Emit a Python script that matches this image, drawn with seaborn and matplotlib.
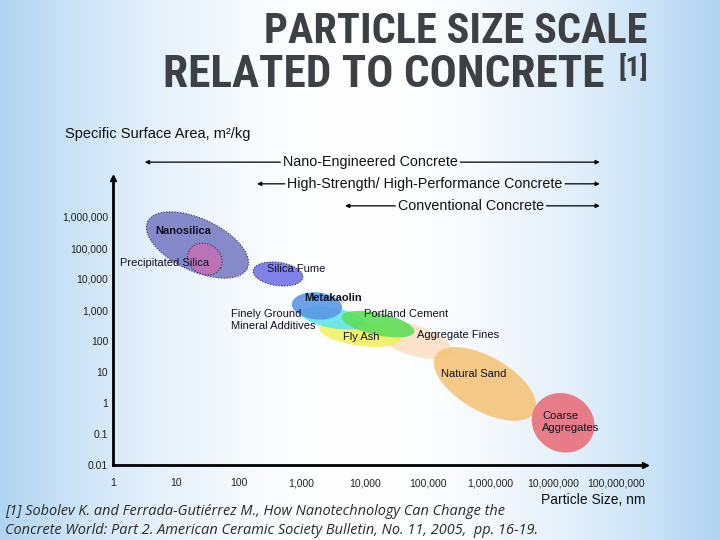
import numpy as np
import matplotlib
matplotlib.use("Agg")
import matplotlib.pyplot as plt
from matplotlib import font_manager
import seaborn as sns

sns.set_theme(style="white")
plt.rcParams['font.family'] = ['Liberation Sans', 'DejaVu Sans']
plt.rcParams['axes.unicode_minus'] = False

# --- data (particle size in nm, specific surface area in m2/kg) ---
materials = ['Aggregate Fines', 'Natural Sand', 'Coarse Aggregates', 'Fly Ash',
             'Finely Ground Mineral Additives', 'Portland Cement', 'Metakaolin',
             'Nanosilica', 'Precipitated Silica', 'Silica Fume']
size_nm = [58700, 820000, 14300000, 8450, 3150, 16300, 1750, 22, 29, 420]
ssa = [108, 4.1, 0.23, 170, 550, 350, 1350, 125000, 44000, 14500]
# extent of each cloud (in particle-size decades) and its tilt
spread_major = [1.30, 1.81, 1.02, 1.30, 1.05, 1.18, 0.80, 1.75, 0.57, 0.80]
spread_minor = [0.48, 0.86, 0.92, 0.38, 0.32, 0.35, 0.43, 0.83, 0.48, 0.37]
tilt = [-18, -30, -30, -8, -10, -12, -5, -25, -30, -8]
colors = ['#fbe0c6', '#f5c47a', '#e8707c', '#f3f064', '#5fe6f0', '#5fde5a',
          '#5b97e6', '#7b7ec4', '#c070b8', '#7474e8']

concretes = ['Nano-Engineered Concrete', 'High-Strength/ High-Performance Concrete',
             'Conventional Concrete']
concrete_min_nm = [3.2, 195, 4900]
concrete_max_nm = [55000000, 55000000, 55000000]

x_ticks = [1, 10, 100, 1000, 10000, 100000, 1000000, 10000000, 100000000]
y_ticks = [0.01, 0.1, 1, 10, 100, 1000, 10000, 100000, 1000000]
x_labels = [f'{v:,}' for v in x_ticks]
y_labels = ['0.01', '0.1'] + [f'{int(v):,}' for v in y_ticks[2:]]

# label anchors (log10 size, log10 ssa)
label_pos = {
    'Nanosilica': (1.11, 5.55, 'center'),
    'Precipitated Silica': (0.11, 4.52, 'left'),
    'Silica Fume': (2.91, 4.32, 'center'),
    'Metakaolin': (3.50, 3.39, 'center'),
    'Finely Ground Mineral Additives': (1.88, 2.68, 'left'),
    'Portland Cement': (3.99, 2.87, 'left'),
    'Fly Ash': (3.94, 2.13, 'center'),
    'Aggregate Fines': (4.83, 2.19, 'left'),
    'Natural Sand': (5.74, 0.94, 'center'),
    'Coarse Aggregates': (6.82, -0.61, 'left'),
}
label_text = {'Finely Ground Mineral Additives': 'Finely Ground\nMineral Additives',
              'Coarse Aggregates': 'Coarse\nAggregates'}


def pick_title_font():
    fl = font_manager.fontManager.ttflist
    names = {f.name for f in fl}
    for cand in ['Liberation Sans Narrow', 'Roboto Condensed', 'Open Sans Condensed',
                 'Noto Sans Condensed', 'DejaVu Sans Condensed']:
        if cand in names:
            return dict(family=[cand, 'DejaVu Sans'])
    if any(f.name == 'DejaVu Sans' and f.stretch == 'condensed' for f in fl):
        return dict(family=['DejaVu Sans'], fontstretch='condensed')
    return dict(family=['Liberation Sans', 'DejaVu Sans'])


fig = plt.figure(figsize=(7.2, 5.4), dpi=100)

# slide background: white centre fading to light blue at the sides
W, H = 720, 540
t = np.abs(np.linspace(0, 1, W) - 0.5) * 2
blend = t ** 1.9
edge = np.array([176, 212, 242]) / 255
row = 1 - blend[:, None] * (1 - edge[None, :])
grad = np.repeat(row[None, :, :], H, axis=0)
bg = fig.add_axes([0, 0, 1, 1])
bg.imshow(grad, aspect='auto', extent=[0, 1, 0, 1])
bg.axis('off')

ax = fig.add_axes([0, 0, 1, 1])
ax.patch.set_alpha(0)
ax.set_xlim(-113 / 62.9, 607 / 62.9)
ax.set_ylim(-2 - 75 / 31, -2 + 465 / 31)
xr = ax.get_xlim()[1] - ax.get_xlim()[0]
yr = ax.get_ylim()[1] - ax.get_ylim()[0]
aspect = (W / xr) / (H / yr)

lx = np.log10(size_nm)
ly = np.log10(ssa)
tt = np.linspace(0, 2 * np.pi, 240)
for i, name in enumerate(materials):
    a = np.radians(tilt[i])
    u = spread_major[i] / 2 * np.cos(tt)
    v = spread_minor[i] / 2 * np.sin(tt)
    ex = lx[i] + u * np.cos(a) - v * np.sin(a)
    ey = ly[i] + (u * np.sin(a) + v * np.cos(a)) * aspect
    ax.fill(ex, ey, color=colors[i], alpha=0.9, lw=0, zorder=2 + i * 0.1)
    if name in ('Nanosilica', 'Precipitated Silica', 'Silica Fume'):
        ax.plot(ex, ey, color='#333344', lw=0.8, ls=(0, (1, 1.5)), zorder=2 + i * 0.1)

for name, (x, y, ha) in label_pos.items():
    bold = name in ('Nanosilica', 'Metakaolin')
    ax.text(x, y, label_text.get(name, name), ha=ha, va='center', fontsize=8,
            color='#111122', fontweight='bold' if bold else 'normal',
            linespacing=1.25, zorder=5)

# axes with arrowheads
for side in ['top', 'right']:
    ax.spines[side].set_visible(False)
ax.spines['left'].set_position(('data', 0))
ax.spines['bottom'].set_position(('data', -2))
ax.spines['left'].set_bounds(-2, 7.2)
ax.spines['bottom'].set_bounds(0, 8.4)
for side in ['left', 'bottom']:
    ax.spines[side].set_color('black')
    ax.spines[side].set_linewidth(2)
    ax.spines[side].set_zorder(6)
ax.plot([8.46], [-2], marker='>', color='black', ms=5, clip_on=False, zorder=6)
ax.plot([0], [7.26], marker='^', color='black', ms=5, clip_on=False, zorder=6)

ax.set_xticks(np.log10(x_ticks))
ax.set_xticklabels(x_labels)
ax.set_yticks(np.log10(y_ticks))
ax.set_yticklabels(y_labels)
ax.tick_params(axis='both', length=3, width=1.5, direction='inout', labelsize=7.5,
               labelcolor='#222222', color='#333333')
ax.tick_params(axis='x', pad=8)
ax.tick_params(axis='y', pad=2)
ax.grid(False)

ax.text(-0.76, 8.68, 'Specific Surface Area, m²/kg', fontsize=10.5, ha='left', va='center',
        color='#111111')
ax.text(8.46, -3.13, 'Particle Size, nm', fontsize=10, ha='right', va='center',
        color='#111111')

# slide title and reference
tf = pick_title_font()
tcol = '#3d4045'
t1 = fig.text(0.899, 0.9204, 'PARTICLE SIZE SCALE', fontweight='bold', fontsize=30,
              ha='right', va='baseline', color=tcol, **tf)
t2 = fig.text(0.840, 0.8389, 'RELATED TO CONCRETE', fontweight='bold', fontsize=30,
              ha='right', va='baseline', color=tcol, **tf)
t3 = fig.text(0.900, 0.860, '[1]', fontweight='bold', fontsize=18,
              ha='right', va='baseline', color=tcol, **tf)

cite_font = ['Open Sans', 'DejaVu Sans']
c1 = fig.text(0.007, 0.0537, '[1] Sobolev K. and Ferrada-Gutiérrez M., How Nanotechnology Can Change the',
              family=cite_font, style='italic', fontsize=10, ha='left', va='center', color='#2a2a2a')
c2 = fig.text(0.007, 0.0185, 'Concrete World: Part 2. American Ceramic Society Bulletin, No. 11, 2005,  pp. 16-19.',
              family=cite_font, style='italic', fontsize=10, ha='left', va='center', color='#2a2a2a')

# concrete ranges with arrows; fit slide texts to their widths
conc_y = [7.77, 7.07, 6.36]
conc_cx = [4.09, 4.96, 5.69]
conc_txt = [ax.text(conc_cx[i], conc_y[i], name, fontsize=10.3, ha='center', va='center',
                    color='#111111') for i, name in enumerate(concretes)]
fig.canvas.draw()
renderer = fig.canvas.get_renderer()
for txt, target, shrink in [(t1, 425, 0.9), (t2, 490, 0.9), (t3, 31, 0.95), (c1, 500, 1.0)]:
    w = txt.get_window_extent(renderer).width
    txt.set_fontsize(txt.get_fontsize() * target / w * shrink)
c2.set_fontsize(c1.get_fontsize())

inv = ax.transData.inverted()
arrow = dict(arrowstyle='-|>', lw=0.9, mutation_scale=6, color='black',
             shrinkA=0, shrinkB=0)
for i, txt in enumerate(conc_txt):
    bb = txt.get_window_extent(renderer)
    left = inv.transform((bb.x0, bb.y0))[0] - 0.04
    right = inv.transform((bb.x1, bb.y0))[0] + 0.04
    ax.annotate('', xy=(np.log10(concrete_min_nm[i]), conc_y[i]),
                xytext=(left, conc_y[i]), arrowprops=arrow)
    ax.annotate('', xy=(np.log10(concrete_max_nm[i]), conc_y[i]),
                xytext=(right, conc_y[i]), arrowprops=arrow)

fig.savefig('out.png', dpi=100)
